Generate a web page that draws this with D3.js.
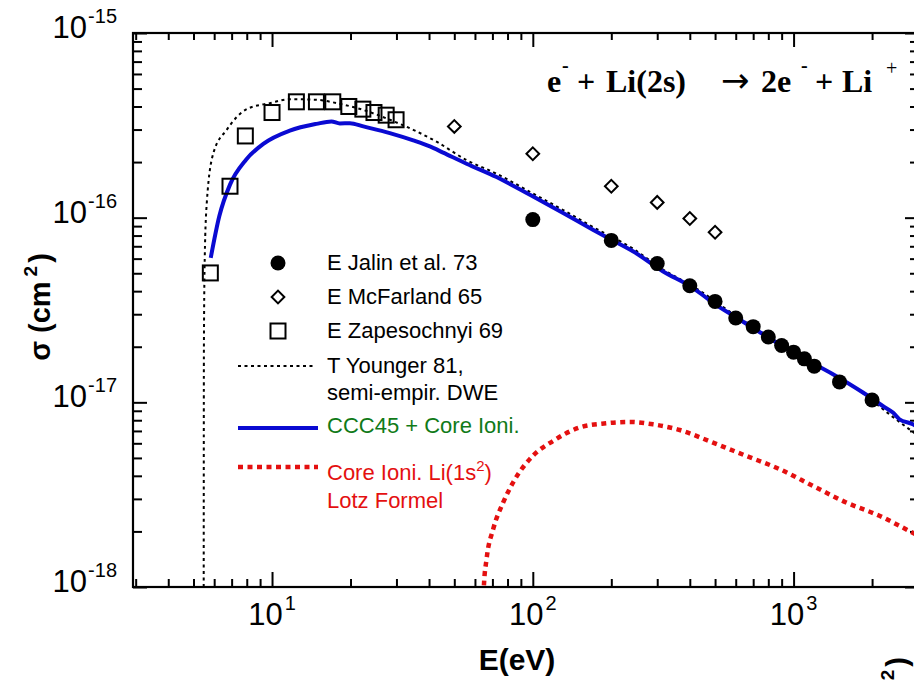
<!DOCTYPE html>
<html>
<head>
<meta charset="utf-8">
<script src="https://cdn.jsdelivr.net/npm/d3@7"></script>
<style>
  html, body { margin: 0; padding: 0; background: #fff; }
  svg { display: block; }
</style>
</head>
<body>
<svg id="chart" width="914" height="680"></svg>
<script>
// ---------------- data ----------------
const jalinE = [100, 200, 300, 400, 500, 600, 700, 800, 900, 1000, 1100, 1200, 1500, 2000];
const jalinSigma = [9.76e-17, 7.53e-17, 5.64e-17, 4.28e-17, 3.52e-17, 2.86e-17, 2.57e-17, 2.26e-17, 2.03e-17, 1.87e-17, 1.72e-17, 1.57e-17, 1.29e-17, 1.03e-17];

const mcfE = [50, 100, 200, 300, 400, 500];
const mcfSigma = [3.12e-16, 2.22e-16, 1.48e-16, 1.21e-16, 9.9e-17, 8.34e-17];

const zapE = [5.8, 6.9, 7.9, 10, 12.4, 14.8, 17.1, 19.7, 22.3, 24.6, 27.4, 29.9];
const zapSigma = [5.02e-17, 1.48e-16, 2.77e-16, 3.71e-16, 4.24e-16, 4.24e-16, 4.24e-16, 4.0e-16, 3.87e-16, 3.71e-16, 3.59e-16, 3.39e-16];

const youngerE = [5.47, 5.48, 5.52, 5.62, 5.96, 6.7, 8.0, 9.8, 11.7, 14.8, 17.7, 22.4, 28.3, 34.8, 42.7, 55.7, 72.6, 97.5, 130.7, 170, 242, 315, 411, 621, 1054, 1845, 2334, 2835, 3000];
const youngerSigma = [1.0e-18, 2.0e-17, 6.0e-17, 1.2e-16, 2.24e-16, 2.99e-16, 3.87e-16, 4.17e-16, 4.38e-16, 4.35e-16, 4.17e-16, 3.83e-16, 3.39e-16, 2.99e-16, 2.58e-16, 2.05e-16, 1.73e-16, 1.38e-16, 1.10e-16, 8.9e-17, 6.8e-17, 5.25e-17, 4.25e-17, 2.85e-17, 1.8e-17, 1.12e-17, 8.6e-18, 7.0e-18, 6.6e-18];

const cccE = [5.82, 6.28, 6.9, 7.95, 9.26, 11.7, 14.8, 16.9, 18.2, 19.9, 22.4, 28.3, 34.8, 40.3, 45.3, 55.7, 72.6, 97.5, 130.7, 170, 200, 242, 315, 411, 491, 621, 786, 1054, 1416, 1845, 2198, 2404, 2546, 2868, 3000];
const cccSigma = [6.05e-17, 1.02e-16, 1.51e-16, 2.06e-16, 2.51e-16, 2.96e-16, 3.22e-16, 3.32e-16, 3.24e-16, 3.25e-16, 3.12e-16, 2.87e-16, 2.62e-16, 2.43e-16, 2.25e-16, 1.96e-16, 1.66e-16, 1.33e-16, 1.06e-16, 8.61e-17, 7.6e-17, 6.58e-17, 5.13e-17, 4.17e-17, 3.46e-17, 2.81e-17, 2.28e-17, 1.78e-17, 1.42e-17, 1.13e-17, 9.55e-18, 8.8e-18, 8.1e-18, 7.6e-18, 7.3e-18];

const lotzE = [64.4, 64.9, 66.5, 70.5, 77, 84, 100, 119.6, 151, 191, 235, 289, 366, 491, 658, 883, 1185, 1591, 2134, 2780, 3000];
const lotzSigma = [5e-19, 1.0e-18, 1.42e-18, 2.06e-18, 2.87e-18, 3.68e-18, 5.13e-18, 6.18e-18, 7.3e-18, 7.7e-18, 7.83e-18, 7.6e-18, 7.08e-18, 6.05e-18, 5.13e-18, 4.35e-18, 3.53e-18, 2.87e-18, 2.43e-18, 2.01e-18, 1.9e-18];

const xMajorTicks = [10, 100, 1000];
const xMajorExp = ["1", "2", "3"];
const yMajorTicks = [1e-18, 1e-17, 1e-16, 1e-15];
const yMajorExp = ["-18", "-17", "-16", "-15"];

const legendLabels = ["E Jalin et al. 73", "E McFarland 65", "E Zapesochnyi 69", "T Younger 81,", "semi-empir. DWE", "CCC45 + Core Ioni.", "Core Ioni. Li(1s", "Lotz Formel"];

// ---------------- layout ----------------
const svg = d3.select("#chart");
const L = 133, R = 918, T = 33, B = 587;
const x = d3.scaleLog().domain([2.93, 3000]).range([L, R]);
const y = d3.scaleLog().domain([1e-18, 1e-15]).range([B, T]);

const SANS = "'Liberation Sans', Arial, Helvetica, sans-serif";
const SERIF = "'Liberation Serif', 'Times New Roman', serif";

const BLUE = "#0a0ad2";
const RED = "#e41010";
const GREEN = "#107a18";

// clip
svg.append("defs").append("clipPath").attr("id", "plotclip")
  .append("rect").attr("x", L).attr("y", T).attr("width", R - L).attr("height", B - T);

// minor tick values
const xMinor = x.ticks(30).filter(v => !xMajorTicks.some(m => Math.abs(m - v) / m < 1e-6) && v >= 2.93 && v <= 3000);
const yMinor = y.ticks(40).filter(v => !yMajorTicks.some(m => Math.abs(m - v) / m < 1e-6));

const axisG = svg.append("g").attr("class", "axes");
function tickAxis(gen, scale, vals, size, tr) {
  const g = axisG.append("g").attr("transform", tr)
    .call(gen(scale).tickValues(vals).tickSize(size).tickFormat(""));
  g.select(".domain").remove();
  g.selectAll(".tick line").attr("stroke", "#000").attr("stroke-width", 2);
}
// bottom (inward = up)
tickAxis(d3.axisBottom, x, xMinor, -8, `translate(0,${B})`);
tickAxis(d3.axisBottom, x, xMajorTicks, -15, `translate(0,${B})`);
// top (inward = down)
tickAxis(d3.axisTop, x, xMinor, -7, `translate(0,${T})`);
tickAxis(d3.axisTop, x, xMajorTicks, -14, `translate(0,${T})`);
// left (inward = right)
tickAxis(d3.axisLeft, y, yMinor, -9, `translate(${L},0)`);
tickAxis(d3.axisLeft, y, yMajorTicks, -14, `translate(${L},0)`);
// right (inward = left)
tickAxis(d3.axisRight, y, yMinor, -8, `translate(${R},0)`);
tickAxis(d3.axisRight, y, yMajorTicks, -13, `translate(${R},0)`);

// frame
axisG.append("rect").attr("x", L).attr("y", T).attr("width", R - L).attr("height", B - T)
  .attr("fill", "none").attr("stroke", "#000").attr("stroke-width", 2.2);

// tick labels
xMajorTicks.forEach((v, i) => {
  const t = svg.append("text").attr("x", x(v)).attr("y", B + 38)
    .attr("text-anchor", "middle").attr("font-family", SANS).attr("font-size", 31).attr("fill", "#000");
  t.append("tspan").text("10");
  t.append("tspan").attr("font-size", 20).attr("dx", 2).attr("dy", -15).text(xMajorExp[i]);
});
yMajorTicks.forEach((v, i) => {
  const t = svg.append("text").attr("x", 117).attr("y", y(v) + 5)
    .attr("text-anchor", "end").attr("font-family", SANS).attr("font-size", 31).attr("fill", "#000");
  t.append("tspan").text("10");
  t.append("tspan").attr("font-size", 20).attr("dx", 1).attr("dy", -15).text(yMajorExp[i]);
});

// axis titles
svg.append("text").attr("x", 517).attr("y", 670).attr("text-anchor", "middle")
  .attr("font-family", SANS).attr("font-weight", "bold").attr("font-size", 30).text("E(eV)");

const sl = svg.append("text").attr("transform", "translate(50,307) rotate(-90)")
  .attr("text-anchor", "middle").attr("font-family", SANS).attr("font-weight", "bold").attr("font-size", 29);
sl.append("tspan").text("σ (cm");
sl.append("tspan").attr("font-size", 19).attr("dx", 5).attr("dy", -13).text("2");
sl.append("tspan").attr("dx", 3).attr("dy", 13).text(")");

// visible fragment of the neighbouring panel's label (bottom-right corner)
const fr = svg.append("text").attr("transform", "translate(907,657) rotate(-90)")
  .attr("text-anchor", "end").attr("font-family", SANS).attr("font-weight", "bold").attr("font-size", 29);
fr.append("tspan").attr("font-size", 19).attr("dy", -13).text("2");
fr.append("tspan").attr("dx", 3).attr("dy", 13).text(")");

// ---------------- curves ----------------
const plot = svg.append("g").attr("clip-path", "url(#plotclip)");
const lineGen = d3.line().x(d => x(d[0])).y(d => y(d[1])).curve(d3.curveMonotoneX);

const younger = youngerE.map((e, i) => [e, youngerSigma[i]]);
const ccc = cccE.map((e, i) => [e, cccSigma[i]]);
const lotz = lotzE.map((e, i) => [e, lotzSigma[i]]);

plot.append("path").datum(younger).attr("d", lineGen)
  .attr("fill", "none").attr("stroke", "#000").attr("stroke-width", 2).attr("stroke-dasharray", "3,3.5");
plot.append("path").datum(lotz).attr("d", lineGen)
  .attr("fill", "none").attr("stroke", RED).attr("stroke-width", 4.5).attr("stroke-dasharray", "5,4.5");
plot.append("path").datum(ccc).attr("d", lineGen)
  .attr("fill", "none").attr("stroke", BLUE).attr("stroke-width", 4).attr("stroke-linejoin", "round");

// ---------------- markers ----------------
const diamond = d3.symbol().type(d3.symbolSquare).size(81);
plot.selectAll("rect.zap").data(zapE).enter().append("rect").attr("class", "zap")
  .attr("x", (d, i) => x(d) - 7.5).attr("y", (d, i) => y(zapSigma[i]) - 7.5)
  .attr("width", 15).attr("height", 15)
  .attr("fill", "none").attr("stroke", "#000").attr("stroke-width", 2);
plot.selectAll("path.mcf").data(mcfE).enter().append("path").attr("class", "mcf")
  .attr("d", diamond)
  .attr("transform", (d, i) => `translate(${x(d)},${y(mcfSigma[i])}) rotate(45)`)
  .attr("fill", "#fff").attr("stroke", "#000").attr("stroke-width", 2);
plot.selectAll("circle.jal").data(jalinE).enter().append("circle").attr("class", "jal")
  .attr("cx", d => x(d)).attr("cy", (d, i) => y(jalinSigma[i])).attr("r", 7.5)
  .attr("fill", "#000");

// ---------------- legend ----------------
const lg = svg.append("g");
const symX = 278, txtX = 327;
lg.append("circle").attr("cx", symX).attr("cy", 263).attr("r", 7.5).attr("fill", "#000");
lg.append("path").attr("d", diamond).attr("transform", `translate(${symX},297) rotate(45)`)
  .attr("fill", "#fff").attr("stroke", "#000").attr("stroke-width", 2);
lg.append("rect").attr("x", symX - 7.5).attr("y", 331 - 7.5).attr("width", 15).attr("height", 15)
  .attr("fill", "none").attr("stroke", "#000").attr("stroke-width", 2);
lg.append("line").attr("x1", 238).attr("x2", 316).attr("y1", 366).attr("y2", 366)
  .attr("stroke", "#000").attr("stroke-width", 2).attr("stroke-dasharray", "3,3.5");
lg.append("line").attr("x1", 238).attr("x2", 318).attr("y1", 428).attr("y2", 428)
  .attr("stroke", BLUE).attr("stroke-width", 4);
lg.append("line").attr("x1", 238).attr("x2", 318).attr("y1", 467).attr("y2", 467)
  .attr("stroke", RED).attr("stroke-width", 4.5).attr("stroke-dasharray", "5,4.5");

const legendRows = [
  [legendLabels[0], 270, "#000"],
  [legendLabels[1], 304, "#000"],
  [legendLabels[2], 338, "#000"],
  [legendLabels[3], 373, "#000"],
  [legendLabels[4], 400, "#000"],
  [legendLabels[5], 433, GREEN],
  [legendLabels[6], 480, RED],
  [legendLabels[7], 508, RED]
];
legendRows.forEach((r, i) => {
  const t = lg.append("text").attr("x", txtX).attr("y", r[1]).attr("fill", r[2])
    .attr("font-family", SANS).attr("font-size", 22).text(r[0]);
  if (i === 6) {
    t.append("tspan").attr("font-size", 15).attr("dy", -9).text("2");
    t.append("tspan").attr("dy", 9).text(")");
  }
});

// ---------------- reaction title ----------------
const title = svg.append("g").attr("font-family", SERIF).attr("font-weight", "bold").attr("fill", "#000");
function tt(tx, ty, size, s, fam, wt) {
  const t = title.append("text").attr("x", tx).attr("y", ty).attr("font-size", size).text(s);
  if (fam) t.attr("font-family", fam);
  if (wt) t.attr("font-weight", wt);
}
tt(547, 92, 32, "e");
tt(562, 72, 20, "-");
tt(577, 92, 32, "+");
tt(606, 92, 32, "Li(2s)");
tt(721, 92, 34, "→", "'DejaVu Sans', sans-serif", "normal");
tt(761, 92, 32, "2e");
tt(801, 72, 20, "-");
tt(815, 92, 32, "+");
tt(842, 92, 32, "Li");
tt(886, 75, 20, "+", null, "normal");
</script>
</body>
</html>
